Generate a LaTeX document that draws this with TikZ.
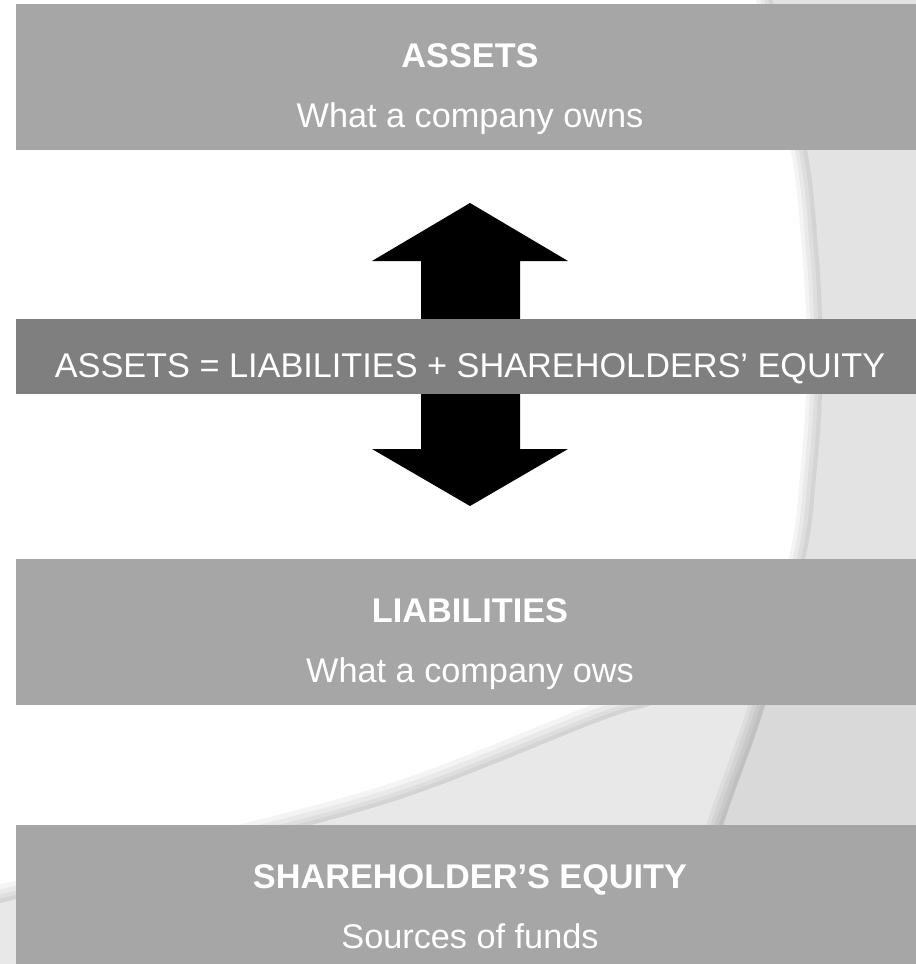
\documentclass[tikz,border=0pt]{standalone}
\usepackage{fontspec}
\setmainfont{Liberation Sans}
\begin{document}
\definecolor{boxgray}{HTML}{A6A6A6}
\definecolor{bandgray}{HTML}{7F7F7F}
\definecolor{sweepA}{HTML}{E3E3E3}
\definecolor{sweepB}{HTML}{E8E8E8}
\definecolor{sweepAB}{HTML}{D9D9D9}
\tikzset{
  panel/.style={fill=boxgray, draw=none, inner sep=0pt, anchor=north west},
  bandbox/.style={fill=bandgray, draw=none, inner sep=0pt, anchor=north west},
  title/.style={text=white, anchor=base, inner sep=0pt, font=\fontsize{34.4}{40}\selectfont\bfseries},
  caption/.style={text=white, anchor=base, inner sep=0pt, font=\fontsize{34.4}{40}\selectfont},
  bigarrow/.style={fill=black, draw=none},
}
\begin{tikzpicture}[x=1bp, y=-1bp]
  \useasboundingbox (0,0) rectangle (916,964);
  \fill[white] (0,0) rectangle (916,964);

  % background sweeps
  \def\edgeA{plot[smooth, tension=0.6] coordinates {(762,-40) (773,2) (807,150) (818,250) (822,320) (822,394) (816,476) (805,559) (765,705) (723,825) (680,964) (660,1010)}}
  \def\edgeB{plot[smooth, tension=0.6] coordinates {(-40,915) (0,903) (200,853) (400,799) (600,721) (660,702) (800,650) (960,570)}}
  \fill[sweepA] \edgeA -- (1000,1010) -- (1000,-40) -- cycle;
  \fill[sweepB] \edgeB -- (1000,1010) -- (-40,1010) -- cycle;
  \begin{scope}
    \clip \edgeB -- (1000,1010) -- (-40,1010) -- cycle;
    \fill[sweepAB] \edgeA -- (1000,1010) -- (1000,-40) -- cycle;
  \end{scope}
  % soft shadows along the sweep edges
  \begin{scope}
    \clip \edgeA -- (-40,1010) -- (-40,-40) -- cycle;
    \foreach \w in {32,24,16,8} {
      \draw[black, opacity=0.045, line width=\w bp] \edgeA;
    }
  \end{scope}
  \begin{scope}
    \clip \edgeB -- (1000,-40) -- (-40,-40) -- cycle;
    \foreach \w in {36,26,16,8} {
      \draw[black, opacity=0.045, line width=\w bp] \edgeB;
    }
  \end{scope}

  % panels
  \node[panel, minimum width=900bp, minimum height=146bp] (assets) at (16,4) {};
  \node[panel, minimum width=900bp, minimum height=146bp] (liab) at (16,559) {};
  \node[panel, minimum width=900bp, minimum height=140bp] (equity) at (16,825) {};

  \node[title] (assetsT) at (470,67) {ASSETS};
  \node[caption] (assetsC) at (470,127) {What a company owns};
  \node[title] (liabT) at (470,622) {LIABILITIES};
  \node[caption] (liabC) at (470,682) {What a company ows};
  \node[title] (equityT) at (470,888) {SHAREHOLDER’S EQUITY};
  \node[caption] (equityC) at (470,948) {Sources of funds};

  % double-headed arrow
  \fill[bigarrow] (470,203) -- (568,261) -- (520,261) -- (520,449) -- (568,449)
    -- (470,506) -- (372,449) -- (421,449) -- (421,261) -- (372,261) -- cycle;

  % equation band
  \node[bandbox, minimum width=900bp, minimum height=75bp] (band) at (16,319) {};
  \node[caption] (eq) at (470,377) {ASSETS = LIABILITIES + SHAREHOLDERS’ EQUITY};
\end{tikzpicture}
\end{document}
